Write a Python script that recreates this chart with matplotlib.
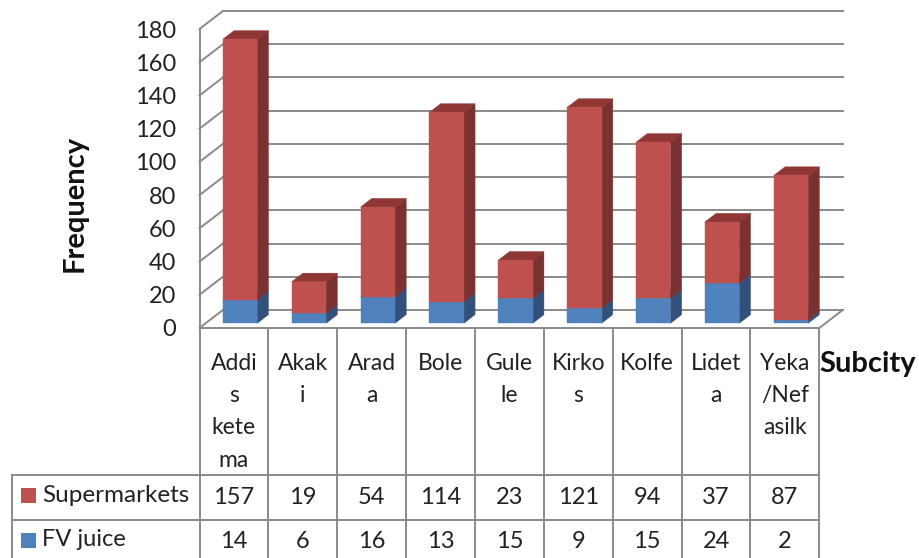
import matplotlib
matplotlib.use('Agg')
import matplotlib.pyplot as plt
from matplotlib.patches import Polygon, Rectangle

plt.rcParams['font.family'] = ['Lato', 'DejaVu Sans']

# wrapped the way the chart's data table breaks them
SUBCITY_LINES = [['Addi', 's', 'kete', 'ma'], ['Akak', 'i'], ['Arad', 'a'], ['Bole'], ['Gule', 'le'],
                 ['Kirko', 's'], ['Kolfe'], ['Lidet', 'a'], ['Yeka', '/Nef', 'asilk']]
SUPERMARKETS = [157, 19, 54, 114, 23, 121, 94, 37, 87]
FV_JUICE = [14, 6, 16, 13, 15, 9, 15, 24, 2]
YTICKS = [0, 20, 40, 60, 80, 100, 120, 140, 160, 180]

GRAY = '#8A8A8A'
TEXT = '#222222'
RED = ('#BE504E', '#7A3230', '#8F3735')   # front, side, top
BLUE = ('#4F81BD', '#325079', '#3D6596')

W, H = 919, 558
AX_L, AX_R = 199.5, 819.3
AX_TOP, AX_BOT = 29.0, 328.0
# table geometry, pixels
TAB_L, ROW1, ROW2 = 12, 475, 520

# pseudo-3d depth in data units
DX = 23.4 / ((AX_R - AX_L) / 9)
DY = 18.0 / ((AX_BOT - AX_TOP) / 180)
BAR_W = 0.5
D0, D1 = 0.26, 0.74


def box(ax, left, low, high, colors, zorder):
    right = left + BAR_W
    x0, y0 = D0 * DX, D0 * DY
    x1, y1 = D1 * DX, D1 * DY
    front = [(left + x0, low + y0), (right + x0, low + y0), (right + x0, high + y0), (left + x0, high + y0)]
    side = [(right + x0, low + y0), (right + x1, low + y1), (right + x1, high + y1), (right + x0, high + y0)]
    top = [(left + x0, high + y0), (right + x0, high + y0), (right + x1, high + y1), (left + x1, high + y1)]
    for pts, c in zip((side, top, front), (colors[1], colors[2], colors[0])):
        ax.add_patch(Polygon(pts, closed=True, facecolor=c, edgecolor=c, linewidth=0.3,
                             clip_on=False, zorder=zorder))


fig = plt.figure(figsize=(W / 100, H / 100), dpi=100, facecolor='white')
ax = fig.add_axes([AX_L / W, 1 - AX_BOT / H, (AX_R - AX_L) / W, (AX_BOT - AX_TOP) / H])
ax.set_xlim(0, 9)
ax.set_ylim(0, 180)
ax.patch.set_visible(False)
for s in ('top', 'right'):
    ax.spines[s].set_visible(False)
for s in ('left', 'bottom'):
    ax.spines[s].set_color(GRAY)
    ax.spines[s].set_linewidth(1.4)
ax.set_xticks([])
ax.set_yticks(YTICKS)
ax.tick_params(axis='y', length=0, pad=17, labelsize=17, labelcolor=TEXT)

# back wall gridlines and the slanted side wall / floor edges
for v in YTICKS:
    ax.plot([DX, 9 + DX], [v + DY, v + DY], color=GRAY, lw=1.4, clip_on=False, zorder=1)
    ax.plot([0, DX], [v, v + DY], color=GRAY, lw=1.4, clip_on=False, zorder=1)
ax.plot([9, 9 + DX], [0, DY], color=GRAY, lw=1.4, clip_on=False, zorder=1)

for i, (fv, sm) in enumerate(zip(FV_JUICE, SUPERMARKETS)):
    left = i + (1 - BAR_W) / 2
    box(ax, left, 0, fv, BLUE, 3 + i)
    box(ax, left, fv, fv + sm, RED, 3 + i)

# overlay in pixel coordinates for the data table and axis titles
tab = fig.add_axes([0, 0, 1, 1])
tab.set_xlim(0, W)
tab.set_ylim(H, 0)
tab.axis('off')
tab.patch.set_visible(False)

slot = (AX_R - AX_L) / 9
for i in range(10):
    x = AX_L + i * slot
    tab.plot([x, x], [AX_BOT, H], color=GRAY, lw=1.4)
tab.plot([TAB_L, TAB_L], [ROW1, H], color=GRAY, lw=1.4)
tab.plot([TAB_L, AX_R], [ROW1, ROW1], color=GRAY, lw=1.4)
tab.plot([TAB_L, AX_R], [ROW2, ROW2], color=GRAY, lw=1.4)

for i, lines in enumerate(SUBCITY_LINES):
    cx = AX_L + (i + 0.5) * slot
    for j, line in enumerate(lines):
        tab.text(cx, 363 + j * 32.5, line, ha='center', va='center', fontsize=16.5, color=TEXT)
    tab.text(cx, 497, str(SUPERMARKETS[i]), ha='center', va='center', fontsize=17, color=TEXT)
    tab.text(cx, 542, str(FV_JUICE[i]), ha='center', va='center', fontsize=17, color=TEXT)

tab.add_patch(Rectangle((20.5, 488), 15, 15, facecolor=RED[0], edgecolor='none'))
tab.add_patch(Rectangle((20.5, 533), 15, 15, facecolor=BLUE[0], edgecolor='none'))
tab.text(42, 496, 'Supermarkets', ha='left', va='center', fontsize=17.5, color=TEXT)
tab.text(42, 540, 'FV juice', ha='left', va='center', fontsize=17, color=TEXT)

tab.text(75, 203, 'Frequency', rotation=90, ha='center', va='center', fontsize=21,
         fontweight='bold', color='#111111')
tab.text(868, 364, 'Subcity', ha='center', va='center', fontsize=21, fontweight='bold', color='#111111')

fig.savefig('out.png', dpi=100)
